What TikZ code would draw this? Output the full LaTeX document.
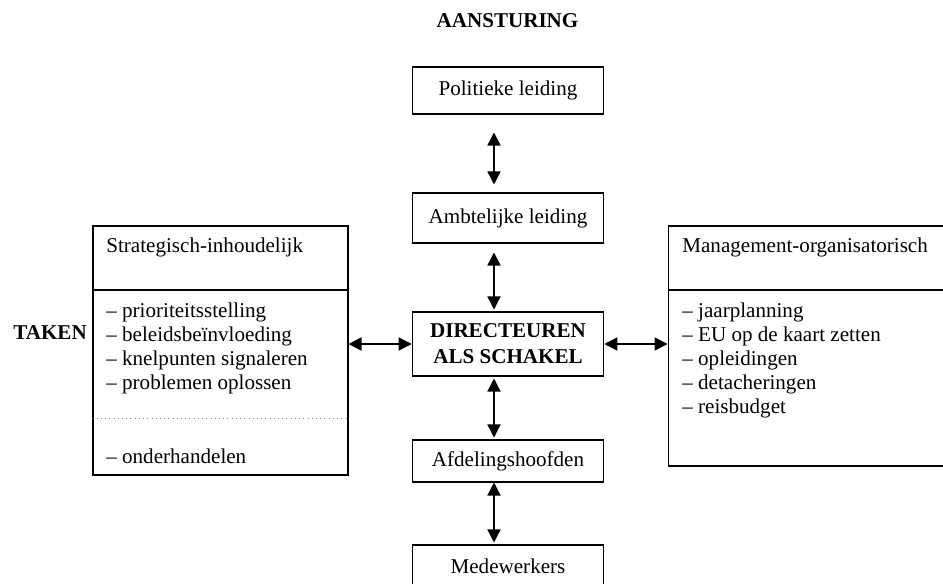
\documentclass[tikz,border=0pt]{standalone}
\usepackage{fontspec}
\setmainfont{Liberation Serif}
\usetikzlibrary{arrows.meta}
\newcommand\diagfont{\fontsize{12}{13.8}\selectfont}

\begin{document}
\begin{tikzpicture}[x=0.02cm,y=-0.02cm,font=\diagfont,
	box/.style={draw,line width=0.6pt,minimum width=3.83cm,inner sep=0pt},
	panel/.style={draw,line width=0.6pt,inner sep=0pt},
	item/.style={anchor=base west,inner sep=0pt},
	heading/.style={font=\diagfont\bfseries,inner sep=0pt},
	link/.style={{Triangle[length=7.4pt,width=7.4pt]}-{Triangle[length=7.4pt,width=7.4pt]},line width=0.8pt}]
	\useasboundingbox (0,0) rectangle (943,584);
	\node[heading,anchor=base] (sturing) at (507.5,28) {AANSTURING};
	\node[heading,anchor=base west] (taken) at (13,339) {TAKEN};
	% middle column
	\node[box,minimum height=0.94cm] (pol) at (508,90.5) {Politieke leiding};
	\node[box,minimum height=1cm] (amb) at (508,218) {Ambtelijke leiding};
	\node[box,minimum height=1.28cm,heading,draw,line width=0.6pt,align=center,font=\fontsize{12}{14.8}\selectfont\bfseries] (dir) at (508,344) {DIRECTEUREN\\ALS SCHAKEL};
	\node[box,minimum height=0.84cm] (afd) at (508,461) {Afdelingshoofden};
	\node[box,minimum height=0.84cm] (med) at (508,566) {Medewerkers};
	% left panel
	\node[panel,minimum width=5.1cm,minimum height=1.28cm] (strathead) at (220.5,258) {};
	\node[panel,minimum width=5.1cm,minimum height=3.7cm] (stratbody) at (220.5,382.5) {};
	\node[item] (strattitle) at (106,253) {Strategisch-inhoudelijk};
	\node[item] (stratlist) at (106,317) {\begin{tabular}[t]{@{}l@{}}
		– prioriteitsstelling\\
		– beleidsbeïnvloeding\\
		– knelpunten signaleren\\
		– problemen oplossen
	\end{tabular}};
	\coordinate (split) at (0,418);
	\draw[dotted,line width=0.4pt,gray] (stratbody.west |- split) -- (stratbody.east |- split);
	\node[item] (stratextra) at (106,463) {– onderhandelen};
	% right panel
	\node[panel,minimum width=5.84cm,minimum height=1.28cm] (mgmthead) at (814,258) {};
	\node[panel,minimum width=5.84cm,minimum height=3.52cm] (mgmtbody) at (814,378) {};
	\node[item] (mgmttitle) at (682,253) {Management-organisatorisch};
	\node[item] (mgmtlist) at (682,317) {\begin{tabular}[t]{@{}l@{}}
		– jaarplanning\\
		– EU op de kaart zetten\\
		– opleidingen\\
		– detacheringen\\
		– reisbudget
	\end{tabular}};
	% arrows
	\coordinate (spine) at (494,0);
	\draw[link,shorten <=0.36cm,shorten >=0.16cm] (pol.south -| spine) -- (amb.north -| spine);
	\draw[link,shorten <=0.18cm,shorten >=0.04cm] (amb.south -| spine) -- (dir.north -| spine);
	\draw[link,shorten <=0.04cm,shorten >=0.04cm] (dir.south -| spine) -- (afd.north -| spine);
	\draw[link,shorten >=0.04cm] (afd.south -| spine) -- (med.north -| spine);
	\draw[link] (stratbody.east |- dir.west) -- (dir.west);
	\draw[link] (dir.east) -- (mgmtbody.west |- dir.east);
\end{tikzpicture}
\end{document}
